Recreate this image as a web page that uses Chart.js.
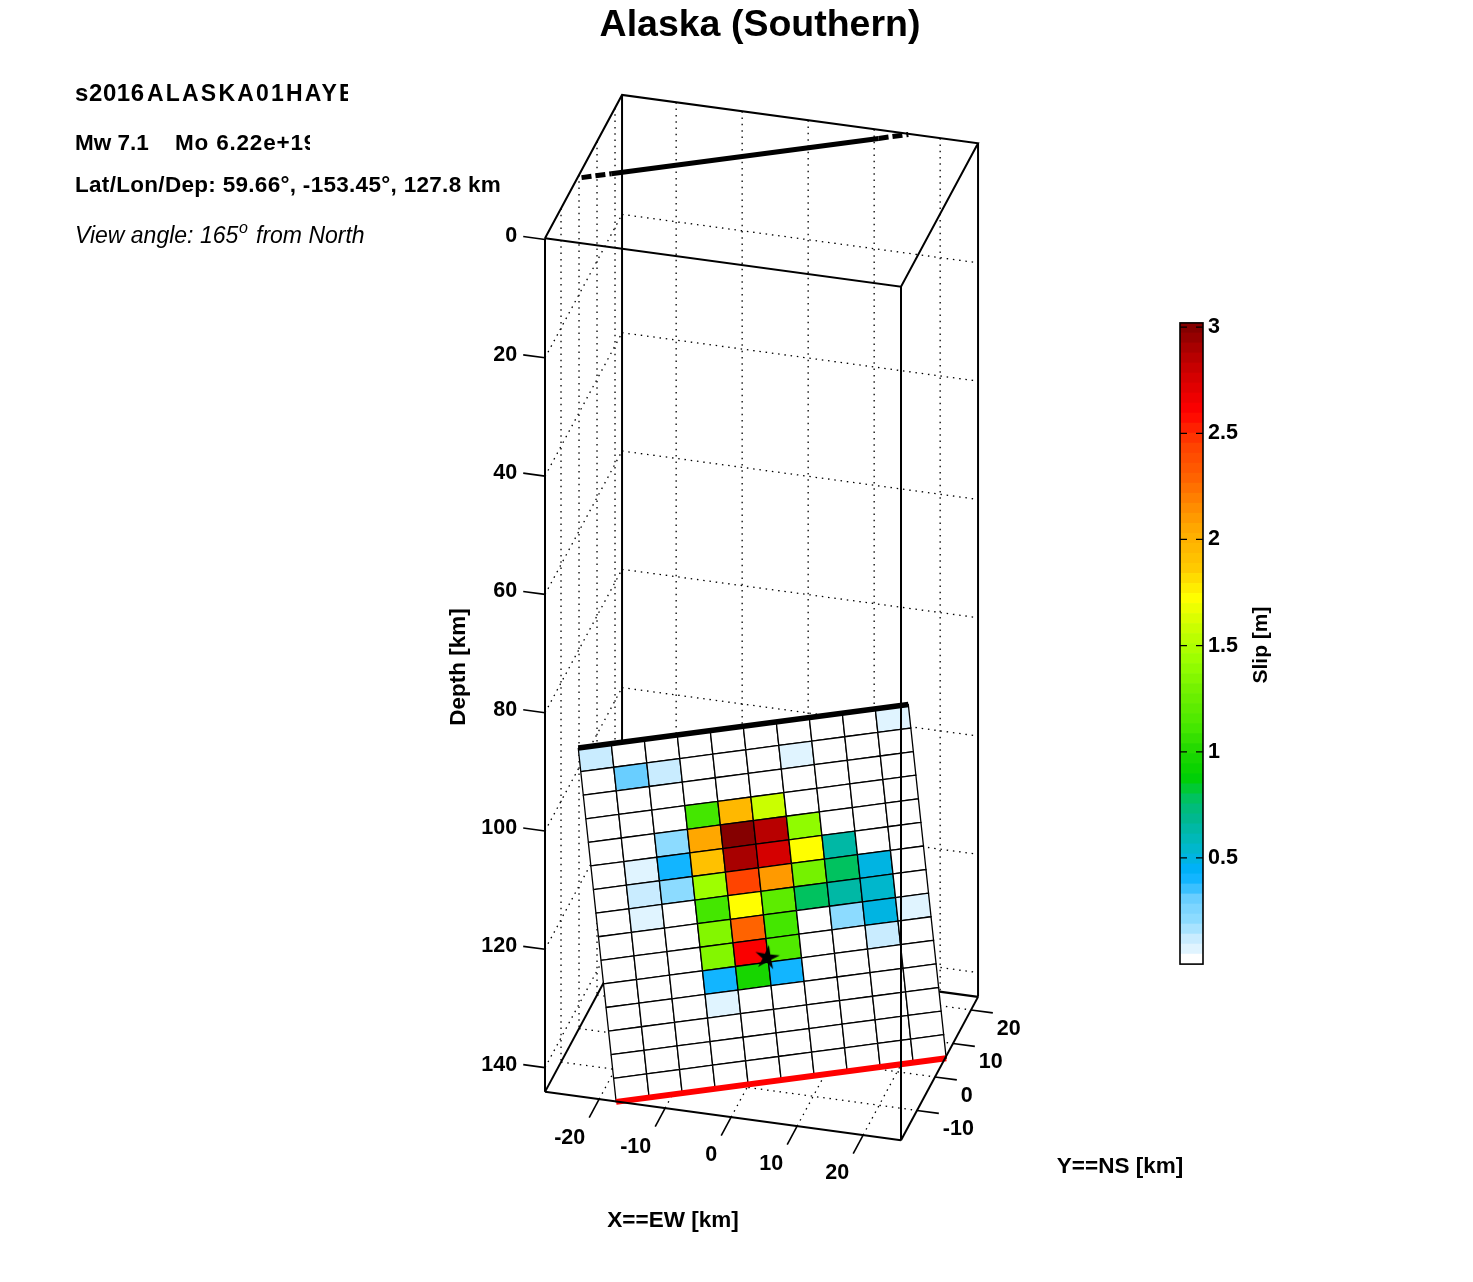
<!DOCTYPE html>
<html>
<head>
<meta charset="utf-8">
<title>Alaska (Southern)</title>
<script src="https://cdn.jsdelivr.net/npm/chart.js@4/dist/chart.umd.min.js"></script>
<style>
  html, body { margin: 0; padding: 0; background: #fff; }
  #page { position: relative; width: 1473px; height: 1282px; overflow: hidden; }
  #plot3d { position: absolute; left: 0; top: 0; }
  #cbar { position: absolute; left: 1178px; top: 305px; }
</style>
</head>
<body>
<div id="page">
  <canvas id="plot3d" width="1473" height="1282"></canvas>
  <canvas id="cbar" width="105" height="677"></canvas>
</div>
<script>
// ── Data ──────────────────────────────────────────
const xTicks = [-20, -10, 0, 10, 20];
const yTicks = [-10, 0, 10, 20];
const depthTicks = [0, 20, 40, 60, 80, 100, 120, 140];
const slipTicks = [0.5, 1, 1.5, 2, 2.5, 3];

// box limits in km
const xRange = [-28.2, 25.74];
const yRange = [-18.9, 23.9];
const depthRange = [-0.2, 144.1];

// fault plane: top left corner, along strike and down dip vectors (km)
const faultCorner = [-28.5, 0.67, 97.1];
const faultStrike = [43.3, 24.6, 0];
const faultDip = [11.06, -19.5, 47.1];
const hypocenter = [0.3, 0, 127.8];

// slip in metres, rows go down dip, columns along strike
const slipRow00 = [0.12, 0, 0, 0, 0, 0, 0, 0, 0, 0.07];
const slipRow01 = [0, 0.3, 0.12, 0, 0, 0, 0.07, 0, 0, 0];
const slipRow02 = [0, 0, 0, 0, 0, 0, 0, 0, 0, 0];
const slipRow03 = [0, 0, 0, 1.1, 1.95, 1.6, 0, 0, 0, 0];
const slipRow04 = [0, 0, 0.22, 2.05, 3.0, 2.85, 1.4, 0, 0, 0];
const slipRow05 = [0, 0.07, 0.42, 1.9, 2.88, 2.78, 1.72, 0.66, 0, 0];
const slipRow06 = [0, 0.12, 0.22, 1.42, 2.42, 2.1, 1.28, 0.76, 0.5, 0];
const slipRow07 = [0, 0.07, 0, 1.1, 1.72, 1.18, 0.76, 0.62, 0.55, 0];
const slipRow08 = [0, 0, 0, 1.36, 2.3, 1.12, 0, 0.2, 0.5, 0.07];
const slipRow09 = [0, 0, 0, 1.36, 2.62, 1.16, 0, 0, 0.12, 0];
const slipRow10 = [0, 0, 0, 0.42, 0.95, 0.38, 0, 0, 0, 0];
const slipRow11 = [0, 0, 0, 0.07, 0, 0, 0, 0, 0, 0];
const slipRow12 = [0, 0, 0, 0, 0, 0, 0, 0, 0, 0];
const slipRow13 = [0, 0, 0, 0, 0, 0, 0, 0, 0, 0];
const slipRow14 = [0, 0, 0, 0, 0, 0, 0, 0, 0, 0];
const slipRows = [slipRow00, slipRow01, slipRow02, slipRow03, slipRow04, slipRow05, slipRow06, slipRow07,
  slipRow08, slipRow09, slipRow10, slipRow11, slipRow12, slipRow13, slipRow14];

// ── Colormap ──────────────────────────────────────
const slipMax = 3.02;
const levelCount = 64;
const colorStops = [
  [0, '#ffffff'], [0.05, '#ffffff'], [0.07, '#e0f4ff'], [0.12, '#c8ecff'], [0.2, '#90dcff'], [0.3, '#70d0ff'],
  [0.38, '#20b8ff'], [0.43, '#00b0ff'], [0.5, '#00b4e0'], [0.55, '#00b8c8'], [0.63, '#00b8a8'], [0.7, '#00b888'], [0.76, '#00c070'],
  [0.88, '#00d000'], [1.0, '#20d800'], [1.12, '#48e800'], [1.28, '#70f000'], [1.42, '#98ff00'], [1.6, '#d0ff00'],
  [1.72, '#ffff00'], [1.87, '#ffc800'], [2.05, '#ffa800'], [2.15, '#ff8c00'], [2.3, '#ff6000'], [2.45, '#ff4000'],
  [2.6, '#ff0000'], [2.78, '#d00000'], [2.88, '#b00000'], [3.02, '#7c0000'],
];

function hexToRgb(h) {
  return [1, 3, 5].map((i) => parseInt(h.slice(i, i + 2), 16));
}

function slipColor(v) {
  // quantise into the colorbar levels first
  const level = Math.min(levelCount - 1, Math.floor((v / slipMax) * levelCount));
  const mid = ((level + 0.5) / levelCount) * slipMax;
  for (let i = 1; i < colorStops.length; i++) {
    if (mid <= colorStops[i][0]) {
      const a = colorStops[i - 1];
      const b = colorStops[i];
      const t = (mid - a[0]) / (b[0] - a[0]);
      const ca = hexToRgb(a[1]);
      const cb = hexToRgb(b[1]);
      return `rgb(${ca.map((c, k) => Math.round(c + (cb[k] - c) * t)).join(',')})`;
    }
  }
  return colorStops[colorStops.length - 1][1];
}

// ── Projection km -> page ─────────────────────────
function project(p) {
  const dx = p[0] - xRange[0];
  const dy = p[1] - yRange[0];
  return {
    x: 545 + dx * 6.6 + dy * 1.8,
    y: 239.5 + p[2] * 5.915 + dx * 0.897 - dy * 3.35,
  };
}

function faultPoint(s, t) {
  return [0, 1, 2].map((k) => faultCorner[k] + s * faultStrike[k] + t * faultDip[k]);
}

// ── Dataset helpers ───────────────────────────────
const layers = [];

function addLine(points, color, width, dash) {
  layers.push({
    data: points.map(project),
    showLine: true,
    pointRadius: 0,
    borderColor: color,
    borderWidth: width,
    borderDash: dash || [],
    borderCapStyle: 'butt',
    fill: false,
    clip: false,
  });
}

function addCell(points, color) {
  layers.push({
    data: points.map(project),
    showLine: true,
    pointRadius: 0,
    borderColor: '#000',
    borderWidth: 1.3,
    backgroundColor: color,
    fill: 'shape',
    clip: false,
  });
}

const dotted = [1.5, 4.8];
const [x0, x1] = xRange;
const [y0, y1] = yRange;
const [d0, d1] = depthRange;

// ── Back walls and floor (dotted grid) ────────────
xTicks.forEach((x) => {
  addLine([[x, y1, d0], [x, y1, d1]], '#000', 1.3, dotted);
  addLine([[x, y0, d1], [x, y1, d1]], '#000', 1.3, dotted);
});
yTicks.forEach((y) => {
  addLine([[x0, y, d0], [x0, y, d1]], '#000', 1.3, dotted);
  addLine([[x0, y, d1], [x1, y, d1]], '#000', 1.3, dotted);
});
depthTicks.filter((d) => d > 0).forEach((d) => {
  addLine([[x0, y0, d], [x0, y1, d]], '#000', 1.3, dotted);
  addLine([[x0, y1, d], [x1, y1, d]], '#000', 1.3, dotted);
});

// ── Box edges behind the fault ────────────────────
addLine([[x0, y1, d0], [x0, y1, d1]], '#000', 2);
addLine([[x1, y1, d0], [x1, y1, d1]], '#000', 2);
addLine([[x0, y1, d1], [x1, y1, d1]], '#000', 2.4);
addLine([[x0, y0, d1], [x0, y1, d1]], '#000', 2);

// ── Surface projection of the fault top ───────────
const surfaceAt = (s) => {
  const p = faultPoint(s, 0);
  return [p[0], p[1], 0.74];
};
addLine([surfaceAt(0.01), surfaceAt(0.1)], '#000', 5, [10, 4]);
addLine([surfaceAt(0.1), surfaceAt(0.91)], '#000', 5);
addLine([surfaceAt(0.91), surfaceAt(1)], '#000', 5, [10, 4]);

// ── Fault plane ───────────────────────────────────
const nCols = slipRow00.length;
const nRows = slipRows.length;
slipRows.forEach((row, r) => {
  row.forEach((slip, c) => {
    const s0 = c / nCols;
    const s1 = (c + 1) / nCols;
    const t0 = r / nRows;
    const t1 = (r + 1) / nRows;
    addCell([faultPoint(s0, t0), faultPoint(s1, t0), faultPoint(s1, t1), faultPoint(s0, t1), faultPoint(s0, t0)], slipColor(slip));
  });
});
addLine([faultPoint(0, 0), faultPoint(1, 0)], '#000', 5.5);
addLine([faultPoint(0, 1), faultPoint(1, 1)], '#ff0000', 6);

// ── Star marker for the hypocenter ────────────────
function makeStar() {
  const c = document.createElement('canvas');
  c.width = 30;
  c.height = 30;
  const g = c.getContext('2d');
  g.translate(15, 15);
  g.rotate(0.14);
  g.beginPath();
  for (let i = 0; i < 10; i++) {
    const r = i % 2 === 0 ? 13 : 4.6;
    const a = -Math.PI / 2 + (i * Math.PI) / 5;
    g.lineTo(r * Math.cos(a), r * Math.sin(a));
  }
  g.closePath();
  g.fillStyle = '#000';
  g.fill();
  return c;
}
layers.push({
  data: [project(hypocenter)],
  showLine: false,
  pointStyle: makeStar(),
  pointRadius: 13,
  clip: false,
});

// ── Box edges in front ────────────────────────────
addLine([[x0, y0, d0], [x0, y0, d1]], '#000', 2);
addLine([[x1, y0, d0], [x1, y0, d1]], '#000', 2);
addLine([[x0, y0, d1], [x1, y0, d1]], '#000', 2);
addLine([[x1, y0, d1], [x1, y1, d1]], '#000', 2);
addLine([[x0, y0, d0], [x1, y0, d0], [x1, y1, d0], [x0, y1, d0], [x0, y0, d0]], '#000', 2);

// ── Tick marks ────────────────────────────────────
const xTickLen = 5.5;
const yTickLen = 3.3;
xTicks.forEach((x) => addLine([[x, y0, d1], [x, y0 - xTickLen, d1]], '#000', 1.6));
yTicks.forEach((y) => addLine([[x1, y, d1], [x1 + yTickLen, y, d1]], '#000', 1.6));
depthTicks.forEach((d) => addLine([[x0, y0, d], [x0 - yTickLen, y0, d]], '#000', 1.6));

// first layer must paint first, Chart.js paints highest order first
layers.forEach((ds, i) => { ds.order = layers.length - i; });

// ── Text drawn on the 3D plot ─────────────────────
const FONT = "'Liberation Sans', sans-serif";

const textPlugin = {
  id: 'plotText',
  afterDraw(chart) {
    const { ctx, scales } = chart;
    const px = (p) => {
      const q = project(p);
      return { x: scales.x.getPixelForValue(q.x), y: scales.y.getPixelForValue(q.y) };
    };
    ctx.save();
    ctx.fillStyle = '#000';

    // title
    ctx.font = `bold 37.5px ${FONT}`;
    ctx.textAlign = 'center';
    ctx.textBaseline = 'alphabetic';
    ctx.fillText('Alaska (Southern)', 760, 36);

    // tick labels
    ctx.font = `bold 21.5px ${FONT}`;
    ctx.textBaseline = 'middle';
    ctx.textAlign = 'right';
    depthTicks.forEach((d) => {
      const p = px([x0 - yTickLen, y0, d]);
      ctx.fillText(String(d), p.x - 6, p.y);
    });
    xTicks.forEach((x) => {
      const p = px([x, y0 - xTickLen, d1]);
      ctx.fillText(String(x), p.x - 4, p.y + 20);
    });
    ctx.textAlign = 'left';
    yTicks.forEach((y) => {
      const p = px([x1 + yTickLen, y, d1]);
      ctx.fillText(String(y), p.x + 4, p.y + 16);
    });

    // axis titles
    ctx.textAlign = 'center';
    ctx.font = `bold 22.5px ${FONT}`;
    ctx.fillText('X==EW [km]', 673, 1221);
    ctx.fillText('Y==NS [km]', 1120, 1167);
    ctx.save();
    ctx.translate(459, 667);
    ctx.rotate(-Math.PI / 2);
    ctx.fillText('Depth [km]', 0, 0);
    ctx.restore();

    // info block, the first two lines are cut off on the right
    ctx.textAlign = 'left';
    ctx.textBaseline = 'alphabetic';
    ctx.save();
    ctx.beginPath();
    ctx.rect(60, 70, 288, 40);
    ctx.clip();
    ctx.font = `bold 24px ${FONT}`;
    ctx.letterSpacing = '0.6px';
    ctx.fillText('s2016', 75, 101);
    ctx.font = `bold 23px ${FONT}`;
    ctx.letterSpacing = '2.2px';
    ctx.fillText('ALASKA01HAYES', 147, 101);
    ctx.letterSpacing = '0px';
    ctx.restore();

    ctx.font = `bold 22.5px ${FONT}`;
    ctx.save();
    ctx.beginPath();
    ctx.rect(60, 120, 250, 40);
    ctx.clip();
    ctx.fillText('Mw 7.1', 75, 150);
    ctx.letterSpacing = '0.8px';
    ctx.fillText('Mo 6.22e+19', 175, 150);
    ctx.letterSpacing = '0px';
    ctx.restore();

    ctx.letterSpacing = '0.3px';
    ctx.fillText('Lat/Lon/Dep: 59.66°, -153.45°, 127.8 km', 75, 192);
    ctx.letterSpacing = '0px';

    ctx.font = `italic 23px ${FONT}`;
    ctx.fillText('View angle: 165', 75, 243);
    ctx.font = `italic 16px ${FONT}`;
    ctx.fillText('o', 239, 233);
    ctx.font = `italic 23px ${FONT}`;
    ctx.fillText('from North', 256, 243);
    ctx.restore();
  },
};

new Chart(document.getElementById('plot3d').getContext('2d'), {
  type: 'scatter',
  data: { datasets: layers },
  options: {
    responsive: false,
    animation: false,
    devicePixelRatio: 1,
    layout: { padding: 0, autoPadding: false },
    plugins: { legend: { display: false }, tooltip: { enabled: false } },
    scales: {
      x: { type: 'linear', min: 0, max: 1473, display: false },
      y: { type: 'linear', min: 0, max: 1282, reverse: true, display: false },
    },
  },
  plugins: [textPlugin],
});

// ── Colorbar ──────────────────────────────────────
const levelEdges = Array.from({ length: levelCount + 1 }, (_, i) => (i / levelCount) * slipMax);
const cbarDatasets = levelEdges.slice(0, -1).map((lo, i) => ({
  data: [[lo, levelEdges[i + 1]]],
  backgroundColor: slipColor((lo + levelEdges[i + 1]) / 2),
  borderWidth: 0,
  grouped: false,
  barPercentage: 1,
  categoryPercentage: 1,
}));

const cbarFrame = {
  id: 'cbarFrame',
  afterDraw(chart) {
    const { ctx, chartArea: a, scales } = chart;
    ctx.save();
    ctx.strokeStyle = '#000';
    ctx.lineWidth = 1.6;
    ctx.strokeRect(a.left, a.top, a.right - a.left, a.bottom - a.top);
    ctx.lineWidth = 1.2;
    slipTicks.forEach((v) => {
      const y = scales.y.getPixelForValue(v);
      ctx.beginPath();
      ctx.moveTo(a.left, y);
      ctx.lineTo(a.left + 7, y);
      ctx.moveTo(a.right - 7, y);
      ctx.lineTo(a.right, y);
      ctx.stroke();
    });
    ctx.fillStyle = '#000';
    ctx.font = `bold 21px ${FONT}`;
    ctx.textAlign = 'center';
    ctx.textBaseline = 'middle';
    ctx.translate(1261 - 1178, 645 - 305);
    ctx.rotate(-Math.PI / 2);
    ctx.fillText('Slip [m]', 0, 0);
    ctx.restore();
  },
};

new Chart(document.getElementById('cbar').getContext('2d'), {
  type: 'bar',
  data: { labels: [''], datasets: cbarDatasets },
  options: {
    responsive: false,
    animation: false,
    devicePixelRatio: 1,
    layout: { padding: { left: 2, top: 10, bottom: 7, right: 0 }, autoPadding: false },
    plugins: { legend: { display: false }, tooltip: { enabled: false } },
    scales: {
      x: { display: false },
      y: {
        position: 'right',
        min: 0,
        max: slipMax,
        grid: { display: false, drawTicks: false },
        border: { display: false },
        afterBuildTicks: (scale) => { scale.ticks = slipTicks.map((value) => ({ value })); },
        afterFit: (scale) => { scale.width = 80; },
        ticks: {
          padding: 5,
          color: '#000',
          font: { family: FONT, size: 21.5, weight: 'bold' },
          callback: (v) => String(v),
        },
      },
    },
  },
  plugins: [cbarFrame],
});
</script>
</body>
</html>
